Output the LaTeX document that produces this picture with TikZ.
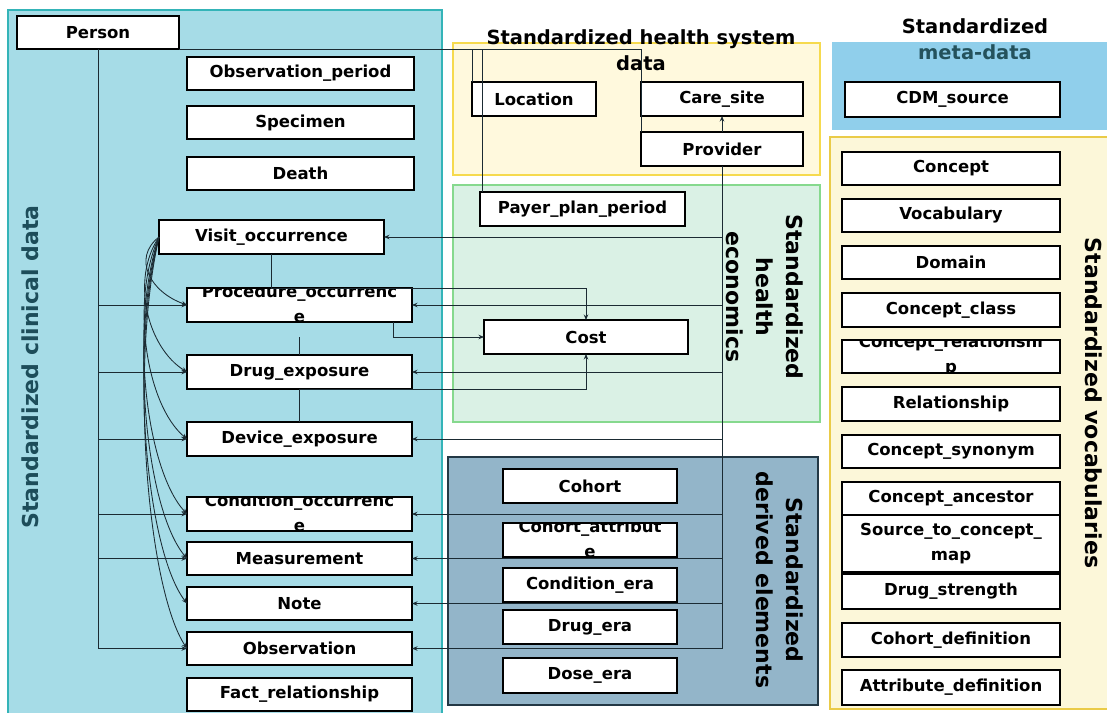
\documentclass[tikz,border=0pt]{standalone}
\usepackage{fontspec}
\setmainfont{DejaVu Sans}
\usetikzlibrary{arrows.meta,calc}
\definecolor{clinfill}{HTML}{A6DCE7}
\definecolor{clinline}{HTML}{34B4B8}
\definecolor{hsfill}{HTML}{FFF9DD}
\definecolor{hsline}{HTML}{F6DA4E}
\definecolor{ecofill}{HTML}{DAF1E5}
\definecolor{ecoline}{HTML}{86D98E}
\definecolor{derfill}{HTML}{93B5C9}
\definecolor{derline}{HTML}{233845}
\definecolor{metafill}{HTML}{90CFEB}
\definecolor{vocfill}{HTML}{FCF7D9}
\definecolor{vocline}{HTML}{EACB48}
\definecolor{linec}{HTML}{1B2B33}
\definecolor{clintxt}{HTML}{1D4D5A}
\definecolor{metatxt}{HTML}{24525C}
\newcommand{\lblfont}{\fontsize{16.5}{25}\selectfont\bfseries}
\newcommand{\ttlfont}{\fontsize{19.5}{26}\selectfont\bfseries}
\newcommand{\rtfont}{\fontsize{22}{30}\selectfont\bfseries}
\newcommand{\wrapped}[2]{%
  \begin{scope}
    \clip (#1.south west) rectangle (#1.north east);
    \node[font=\lblfont, align=center, inner sep=0pt] (#1-text) at ([yshift=1pt]#1.center) {#2};
  \end{scope}
  \draw[line width=1.6pt] (#1.south west) rectangle (#1.north east);}
\begin{document}
\begin{tikzpicture}[x=1pt,y=-1pt,
  tbl/.style={draw=black, line width=1.6pt, fill=white, inner sep=0pt, outer sep=0pt, font=\lblfont, text=black},
  conn/.style={draw=linec, line width=0.85pt},
  arr/.style={conn, -{Stealth[length=5.5pt,width=4.5pt]}},
  grp/.style={line width=1.8pt}]
\clip (0,0) rectangle (1107,712);
\fill[white] (0,0) rectangle (1107,712);

% ---------- groups ----------
\draw[grp, draw=clinline, fill=clinfill] (8,10) rectangle (442,725);
\draw[grp, draw=hsline, fill=hsfill] (453,43) rectangle (820,175);
\draw[grp, draw=ecoline, fill=ecofill] (453,185) rectangle (820,422);
\draw[grp, draw=derline, fill=derfill] (448,457) rectangle (818,705);
\fill[metafill] (832,42) rectangle (1115,130);
\draw[grp, draw=vocline, fill=vocfill] (830,137) rectangle (1115,709);

% ---------- group titles ----------
\node[font=\rtfont, text=clintxt, rotate=90, inner sep=0pt] (tclin) at (30,367) {Standardized clinical data};
\node[font=\ttlfont, align=center, inner sep=0pt] (ths) at (641,50) {Standardized health system\\data};
\node[font=\ttlfont, align=center, inner sep=0pt] (tmeta) at (975,39) {Standardized\\\textcolor{metatxt}{meta-data}};
\node[font=\rtfont, align=center, rotate=-90, inner sep=0pt] (teco) at (765,297) {Standardized\\health\\economics};
\node[font=\rtfont, align=center, rotate=-90, inner sep=0pt] (tder) at (780,580) {Standardized\\derived elements};
\node[font=\rtfont, rotate=-90, inner sep=0pt] (tvoc) at (1094,403) {Standardized vocabularies};

% ---------- clinical tables ----------
\node[tbl, minimum width=162pt, minimum height=33pt] (person) at (98,32.5) {Person};
\node[tbl, minimum width=227pt, minimum height=33pt] (obsper) at (300.5,73.5) {Observation\_period};
\node[tbl, minimum width=227pt, minimum height=33pt] (specimen) at (300.5,122.5) {Specimen};
\node[tbl, minimum width=227pt, minimum height=33pt] (death) at (300.5,173.5) {Death};
\node[tbl, minimum width=225pt, minimum height=34pt] (visit) at (271.5,237) {Visit\_occurrence};
\node[tbl, minimum width=225pt, minimum height=34pt] (proc) at (299.5,305) {};
\node[tbl, minimum width=225pt, minimum height=34pt] (drug) at (299.5,372) {Drug\_exposure};
\node[tbl, minimum width=225pt, minimum height=34pt] (device) at (299.5,439) {Device\_exposure};
\node[tbl, minimum width=225pt, minimum height=34pt] (cond) at (299.5,514) {};
\node[tbl, minimum width=225pt, minimum height=33pt] (meas) at (299.5,558.5) {Measurement};
\node[tbl, minimum width=225pt, minimum height=33pt] (note) at (299.5,603.5) {Note};
\node[tbl, minimum width=225pt, minimum height=33pt] (obs) at (299.5,648.5) {Observation};
\node[tbl, minimum width=225pt, minimum height=33pt] (fact) at (299.5,694.5) {Fact\_relationship};
\wrapped{proc}{Procedure\_occurrenc\\e}
\wrapped{cond}{Condition\_occurrenc\\e}

% ---------- health system ----------
\node[tbl, minimum width=124pt, minimum height=34pt] (location) at (534,99) {Location};
\node[tbl, minimum width=162pt, minimum height=34pt] (caresite) at (722,99) {Care\_site};
\node[tbl, minimum width=162pt, minimum height=34pt] (provider) at (722,149) {Provider};

% ---------- economics ----------
\node[tbl, minimum width=205pt, minimum height=34pt] (payer) at (582.5,209) {Payer\_plan\_period};
\node[tbl, minimum width=204pt, minimum height=34pt] (cost) at (586,337) {Cost};

% ---------- derived ----------
\node[tbl, minimum width=174pt, minimum height=34pt] (cohort) at (590,486) {Cohort};
\node[tbl, minimum width=174pt, minimum height=34pt] (cohattr) at (590,540) {};
\node[tbl, minimum width=174pt, minimum height=34pt] (condera) at (590,585) {Condition\_era};
\node[tbl, minimum width=174pt, minimum height=34pt] (drugera) at (590,627) {Drug\_era};
\node[tbl, minimum width=174pt, minimum height=35pt] (doseera) at (590,675.5) {Dose\_era};
\wrapped{cohattr}{Cohort\_attribut\\e}

% ---------- meta / vocabularies ----------
\node[tbl, minimum width=215pt, minimum height=35pt] (cdm) at (952.5,99.5) {CDM\_source};
\node[tbl, minimum width=218pt, minimum height=33pt] (concept) at (951,168.5) {Concept};
\node[tbl, minimum width=218pt, minimum height=33pt] (vocab) at (951,215.5) {Vocabulary};
\node[tbl, minimum width=218pt, minimum height=33pt] (domain) at (951,262.5) {Domain};
\node[tbl, minimum width=218pt, minimum height=34pt] (cclass) at (951,310) {Concept\_class};
\node[tbl, minimum width=218pt, minimum height=33pt] (crel) at (951,356.5) {};
\node[tbl, minimum width=218pt, minimum height=34pt] (rel) at (951,404) {Relationship};
\node[tbl, minimum width=218pt, minimum height=33pt] (csyn) at (951,451.5) {Concept\_synonym};
\node[tbl, minimum width=218pt, minimum height=33pt] (canc) at (951,498.5) {Concept\_ancestor};
\node[tbl, minimum width=218pt, minimum height=57pt, align=center] (s2c) at (951,543.5) {Source\_to\_concept\_\\map};
\node[tbl, minimum width=218pt, minimum height=35pt] (dstr) at (951,591.5) {Drug\_strength};
\node[tbl, minimum width=218pt, minimum height=34pt] (cdef) at (951,640) {Cohort\_definition};
\node[tbl, minimum width=218pt, minimum height=35pt] (adef) at (951,687.5) {Attribute\_definition};
\wrapped{crel}{Concept\_relationshi\\p}

% ---------- Person connectors ----------
\draw[arr] (person.south) -- (person.south |- obs.west) -- (obs.west);
\foreach \t in {proc,drug,device,cond,meas}
  \draw[arr] (person.south |- \t.west) -- (\t.west);
\draw[conn] (person.south east) -- (provider.north west |- person.south east) -- (provider.north west);
\draw[conn] (location.north west |- person.south east) -- (location.north west);
\draw[conn] ([xshift=2pt]payer.north west |- person.south east) -- ([xshift=2pt]payer.north west);

% ---------- Provider connectors ----------
\draw[arr] (provider.north) -- (caresite.south);
\draw[arr] (provider.south) -- (provider.south |- obs.east) -- (obs.east);
\foreach \t in {visit,proc,drug,device,cond,meas,note}
  \draw[arr] (provider.south |- \t.east) -- (\t.east);

% ---------- Cost connectors ----------
\draw[arr] (visit.south) -- (visit.south |- proc.north) -- (cost.north |- proc.north) -- (cost.north);
\draw[arr] ([xshift=-19pt]proc.south east) |- (cost.west);
\draw[conn] (drug.north) -- (drug.north |- cost.west);
\draw[arr] (device.north) -- (device.north |- drug.south) -- (cost.south |- drug.south) -- (cost.south);

% ---------- Visit curves ----------
\draw[arr] (visit.west) .. controls (132,258) and (150,292) .. (proc.west);
\draw[arr] (visit.west) .. controls (130,280) and (148,348) .. (drug.west);
\draw[arr] (visit.west) .. controls (130,300) and (146,405) .. (device.west);
\draw[arr] (visit.west) .. controls (129,325) and (146,470) .. (cond.west);
\draw[arr] (visit.west) .. controls (129,340) and (146,510) .. (meas.west);
\draw[arr] (visit.west) .. controls (129,355) and (146,550) .. (note.west);
\draw[arr] (visit.west) .. controls (129,370) and (148,590) .. (obs.west);
\end{tikzpicture}
\end{document}
